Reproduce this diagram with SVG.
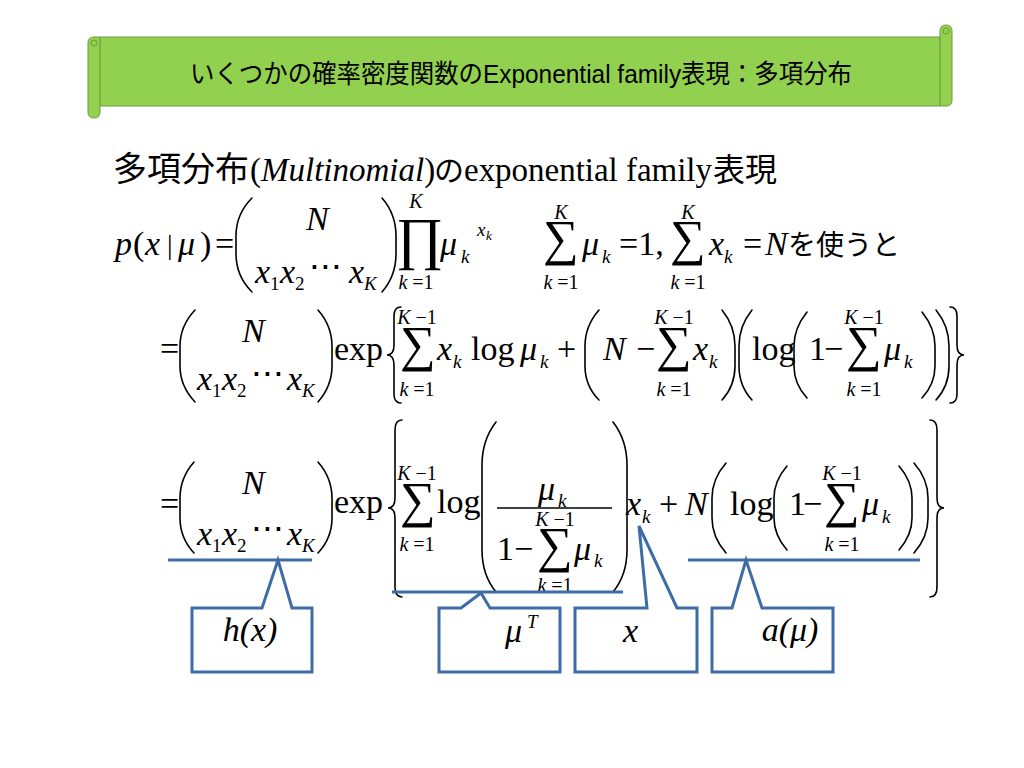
<svg xmlns="http://www.w3.org/2000/svg" width="1024" height="768" viewBox="0 0 1024 768">
<style>
.t{font-family:"Liberation Serif","Times New Roman",serif;font-size:34px;fill:#000}
.i{font-style:italic}
.sb{font-size:19px}
.lm{font-size:20px}
.op{font-size:50px}
.pr{font-size:58px}
.cj{font-family:"Noto Sans CJK JP",sans-serif}
.d{fill:none;stroke:#000;stroke-width:1.6;stroke-linecap:round}
.cb{fill:#fff;stroke:#3e6da6;stroke-width:3}
.ul{stroke:#3e6da6;stroke-width:3}
.ban{fill:#92d050;stroke:#6f9c3c;stroke-width:1}
</style>
<rect width="1024" height="768" fill="#fff"/>

<g id="title">
  <path class="ban" d="M100,37 L940,37 L940,106 L100,106 Z"/>
  <path class="ban" d="M940,37 L940,31 Q940,25 946,25 Q952,25 952,31 L952,100 Q952,106 946,106 L940,106 Z"/>
  <circle class="ban" cx="946" cy="31" r="3"/>
  <path class="ban" d="M88,112 L88,43 Q88,37 94,37 L100,37 L100,112 Q100,118 94,118 Q88,118 88,112 Z"/>
  <circle class="ban" cx="94" cy="43" r="3"/>
  <text x="190" y="83" font-family="Liberation Sans,Noto Sans CJK JP,sans-serif" font-size="26" textLength="662" lengthAdjust="spacingAndGlyphs">いくつかの確率密度関数のExponential family表現：多項分布</text>
</g>

<g id="heading">
  <text class="t" y="181"><tspan class="cj" x="113" font-size="34">多項分布</tspan><tspan x="250" font-size="33">(</tspan><tspan class="i" font-size="33">Multinomial</tspan><tspan font-size="33">)</tspan><tspan class="cj" x="434" font-size="30">の</tspan><tspan x="464" font-size="33" textLength="248">exponential family</tspan><tspan class="cj" x="713" font-size="32">表現</tspan></text>
</g>

<g id="line2">
  <text class="t i" x="115" y="255">p</text>
  <text class="t" x="133" y="255">(</text>
  <text class="t i" x="145" y="255">x</text>
  <text class="t" x="167" y="254" style="font-size:28px">|</text>
  <text class="t i" x="178" y="255">μ</text>
  <text class="t" x="200" y="255">)</text>
  <text class="t" x="215" y="255">=</text>
  <path class="d" d="M252,198 Q236,214 236,236 L236,254 Q236,276 252,292"/>
  <path class="d" d="M382,198 Q396,214 396,236 L396,254 Q396,276 382,292"/>
  <text class="t i" x="306" y="230">N</text>
  <text class="t i" x="255" y="283">x</text><text class="t sb" x="270" y="290">1</text>
  <text class="t i" x="280" y="283">x</text><text class="t sb" x="295" y="290">2</text>
  <text class="t" x="309" y="279">⋅⋅⋅</text>
  <text class="t i" x="349" y="283">x</text><text class="t i sb" x="364" y="290">K</text>
  <text class="t pr" x="396" y="258">∏</text>
  <text class="t i lm" x="416" y="208" text-anchor="middle">K</text>
  <text class="t lm" x="416" y="289" text-anchor="middle"><tspan class="i">k</tspan> =1</text>
  <text class="t i" x="440" y="255">μ</text><text class="t i sb" x="461" y="263">k</text>
  <text class="t i" x="477" y="236" style="font-size:19px">x</text><text class="t i" x="486" y="240" style="font-size:13px">k</text>

  <text class="t op" x="543" y="255">∑</text>
  <text class="t i lm" x="561" y="219" text-anchor="middle">K</text>
  <text class="t lm" x="561" y="289" text-anchor="middle"><tspan class="i">k</tspan> =1</text>
  <text class="t i" x="582" y="255">μ</text><text class="t i sb" x="602" y="263">k</text>
  <text class="t" x="619" y="255">=1,</text>
  <text class="t op" x="670" y="255">∑</text>
  <text class="t i lm" x="688" y="219" text-anchor="middle">K</text>
  <text class="t lm" x="688" y="289" text-anchor="middle"><tspan class="i">k</tspan> =1</text>
  <text class="t i" x="709" y="255">x</text><text class="t i sb" x="724" y="263">k</text>
  <text class="t" x="743" y="255">=</text>
  <text class="t i" x="765" y="255">N</text>
  <text class="t cj" x="788" y="255" style="font-size:28px">を使うと</text>
</g>

<g id="line3">
  <text class="t" x="160" y="360">=</text>
  <path class="d" d="M195,310 Q180,326 180,346 L180,366 Q180,386 195,402"/>
  <path class="d" d="M318,310 Q332,326 332,346 L332,366 Q332,386 318,402"/>
  <text class="t i" x="242" y="342">N</text>
  <text class="t i" x="197" y="390">x</text><text class="t sb" x="212" y="397">1</text>
  <text class="t i" x="222" y="390">x</text><text class="t sb" x="237" y="397">2</text>
  <text class="t" x="251" y="386">⋅⋅⋅</text>
  <text class="t i" x="287" y="390">x</text><text class="t i sb" x="302" y="397">K</text>
  <text class="t" x="334" y="360">exp</text>
  <path class="d" d="M401,307 Q394,307 394,316 L394,345 Q394,355 387,355 Q394,355 394,365 L394,394 Q394,403 401,403"/>
  <text class="t op" x="400" y="361">∑</text>
  <text class="t lm" x="417" y="324" text-anchor="middle"><tspan class="i">K</tspan> −1</text>
  <text class="t lm" x="417" y="396" text-anchor="middle"><tspan class="i">k</tspan> =1</text>
  <text class="t i" x="437" y="360">x</text><text class="t i sb" x="453" y="368">k</text>
  <text class="t" x="471" y="360">log</text>
  <text class="t i" x="520" y="360">μ</text><text class="t i sb" x="540" y="368">k</text>
  <text class="t" x="557" y="360">+</text>
  <path class="d" d="M599,310 Q585,326 585,346 L585,366 Q585,386 599,400"/>
  <text class="t i" x="603" y="360">N</text>
  <text class="t" x="636" y="360">−</text>
  <text class="t op" x="656" y="361">∑</text>
  <text class="t lm" x="674" y="324" text-anchor="middle"><tspan class="i">K</tspan> −1</text>
  <text class="t lm" x="674" y="396" text-anchor="middle"><tspan class="i">k</tspan> =1</text>
  <text class="t i" x="693" y="360">x</text><text class="t i sb" x="709" y="368">k</text>
  <path class="d" d="M722,310 Q735,326 735,346 L735,366 Q735,386 722,400"/>
  <path class="d" d="M752,310 Q739,326 739,346 L739,366 Q739,386 752,400"/>
  <text class="t" x="752" y="360">log</text>
  <path class="d" d="M807,312 Q794,328 794,346 L794,366 Q794,384 807,398"/>
  <text class="t" x="809" y="360">1</text>
  <text class="t" x="824" y="360">−</text>
  <text class="t op" x="846" y="361">∑</text>
  <text class="t lm" x="864" y="324" text-anchor="middle"><tspan class="i">K</tspan> −1</text>
  <text class="t lm" x="864" y="396" text-anchor="middle"><tspan class="i">k</tspan> =1</text>
  <text class="t i" x="884" y="360">μ</text><text class="t i sb" x="904" y="368">k</text>
  <path class="d" d="M922,312 Q935,328 935,346 L935,366 Q935,384 922,398"/>
  <path class="d" d="M936,310 Q949,326 949,346 L949,366 Q949,386 936,400"/>
  <path class="d" d="M950,307 Q957,307 957,316 L957,345 Q957,355 964,355 Q957,355 957,365 L957,394 Q957,403 950,403"/>
</g>

<g id="line4">
  <text class="t" x="160" y="515">=</text>
  <path class="d" d="M194,462 Q180,478 180,498 L180,518 Q180,538 194,553"/>
  <path class="d" d="M318,462 Q332,478 332,498 L332,518 Q332,538 318,553"/>
  <text class="t i" x="242" y="494">N</text>
  <text class="t i" x="197" y="545">x</text><text class="t sb" x="212" y="552">1</text>
  <text class="t i" x="222" y="545">x</text><text class="t sb" x="237" y="552">2</text>
  <text class="t" x="251" y="541">⋅⋅⋅</text>
  <text class="t i" x="287" y="545">x</text><text class="t i sb" x="302" y="552">K</text>
  <text class="t" x="334" y="513">exp</text>
  <path class="d" d="M402,420 Q395,420 395,430 L395,498 Q395,508 388,508 Q395,508 395,518 L395,587 Q395,597 402,597"/>
  <text class="t op" x="400" y="517">∑</text>
  <text class="t lm" x="417" y="480" text-anchor="middle"><tspan class="i">K</tspan> −1</text>
  <text class="t lm" x="417" y="551" text-anchor="middle"><tspan class="i">k</tspan> =1</text>
  <text class="t" x="437" y="513">log</text>
  <path class="d" d="M496,422 Q482,440 482,465 L482,550 Q482,575 496,592"/>
  <text class="t i" x="538" y="500">μ</text><text class="t i sb" x="558" y="507">k</text>
  <line x1="497" y1="508" x2="612" y2="508" stroke="#000" stroke-width="1.3"/>
  <text class="t" x="497" y="560">1</text>
  <text class="t" x="514" y="560">−</text>
  <text class="t op" x="537" y="562">∑</text>
  <text class="t lm" x="555" y="526" text-anchor="middle"><tspan class="i">K</tspan> −1</text>
  <text class="t lm" x="555" y="592" text-anchor="middle"><tspan class="i">k</tspan> =1</text>
  <text class="t i" x="574" y="560">μ</text><text class="t i sb" x="594" y="567">k</text>
  <path class="d" d="M613,422 Q627,440 627,465 L627,550 Q627,575 613,592"/>
  <text class="t i" x="626" y="515">x</text><text class="t i sb" x="642" y="523">k</text>
  <text class="t" x="659" y="515">+</text>
  <text class="t i" x="685" y="515">N</text>
  <path class="d" d="M726,463 Q712,479 712,498 L712,518 Q712,537 726,553"/>
  <text class="t" x="730" y="515">log</text>
  <path class="d" d="M787,466 Q774,481 774,498 L774,518 Q774,535 787,550"/>
  <text class="t" x="789" y="515">1</text>
  <text class="t" x="803" y="515">−</text>
  <text class="t op" x="824" y="517">∑</text>
  <text class="t lm" x="842" y="480" text-anchor="middle"><tspan class="i">K</tspan> −1</text>
  <text class="t lm" x="842" y="551" text-anchor="middle"><tspan class="i">k</tspan> =1</text>
  <text class="t i" x="862" y="515">μ</text><text class="t i sb" x="882" y="523">k</text>
  <path class="d" d="M899,466 Q912,481 912,498 L912,518 Q912,535 899,550"/>
  <path class="d" d="M914,463 Q928,479 928,498 L928,518 Q928,537 914,553"/>
  <path class="d" d="M930,420 Q937,420 937,430 L937,498 Q937,508 944,508 Q937,508 937,518 L937,587 Q937,597 930,597"/>
</g>

<g id="connectors">
  <line class="ul" x1="168" y1="560" x2="312" y2="560"/>
  <line class="ul" x1="392" y1="592" x2="623" y2="592"/>
  <line class="ul" x1="688" y1="560" x2="920" y2="560"/>
</g>

<g id="callout-h">
  <path class="cb" d="M192,608 L262,608 L278,560 L292,608 L312,608 L312,672 L192,672 Z"/>
  <text class="t i" x="250" y="641" text-anchor="middle">h(x)</text>
</g>
<g id="callout-mu">
  <path class="cb" d="M439,608 L461,608 L481,593 L490,608 L560,608 L560,672 L439,672 Z"/>
  <text class="t i" x="505" y="642">μ</text><text class="t i" x="527" y="628" style="font-size:19px">T</text>
</g>
<g id="callout-x">
  <path class="cb" d="M575,608 L647,608 L639,526 L677,608 L697,608 L697,672 L575,672 Z"/>
  <text class="t i" x="623" y="642">x</text>
</g>
<g id="callout-a">
  <path class="cb" d="M712,608 L732,608 L746,560 L762,608 L833,608 L833,672 L712,672 Z"/>
  <text class="t i" x="790" y="641" text-anchor="middle">a(μ)</text>
</g>
</svg>
